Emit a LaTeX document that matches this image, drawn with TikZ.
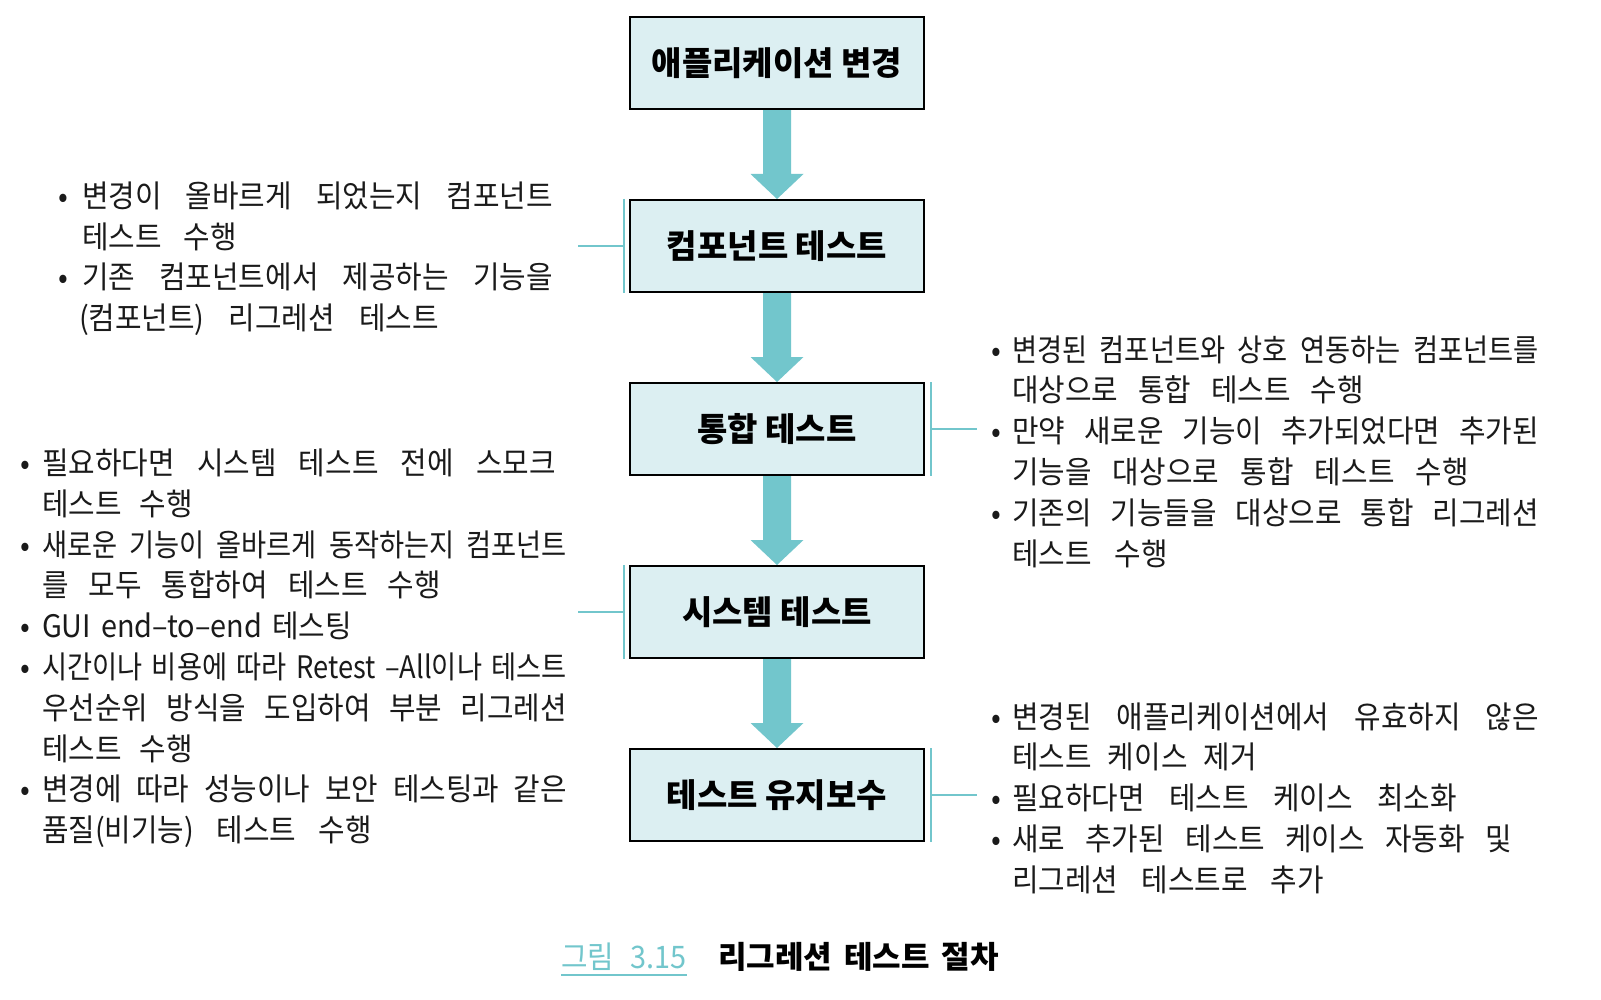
\documentclass[tikz,border=0pt]{standalone}
\usepackage{fontspec}
\usetikzlibrary{calc,backgrounds}
\newfontfamily\kr[FakeStretch=0.93]{Noto Sans CJK KR}
\newfontfamily\krb{Noto Sans CJK KR}
\newfontfamily\krA[FakeStretch=0.88]{Noto Sans CJK KR}
\newfontfamily\krB[FakeStretch=0.83]{Noto Sans CJK KR}
\newfontfamily\krC[FakeStretch=0.78]{Noto Sans CJK KR}
\newfontfamily\krD[FakeStretch=0.73]{Noto Sans CJK KR}
\definecolor{boxfill}{HTML}{DCEFF2}
\definecolor{arrowc}{HTML}{72C6CC}
\definecolor{inkc}{HTML}{1A1A1A}
\newlength\fitnat
\newcommand\fitto[2]{%
 \settowidth\fitnat{#2}%
 \ifdim\fitnat>#1\relax
  \settowidth\fitnat{\krA #2}%
  \ifdim\fitnat>#1\relax
   \settowidth\fitnat{\krB #2}%
   \ifdim\fitnat>#1\relax
    \settowidth\fitnat{\krC #2}%
    \ifdim\fitnat>#1\relax \makebox[#1][s]{\krD #2}%
    \else \makebox[#1][s]{\krC #2}\fi
   \else \makebox[#1][s]{\krB #2}\fi
  \else \makebox[#1][s]{\krA #2}\fi
 \else \makebox[#1][s]{#2}\fi}
\newcommand\flowarr[2]{\fill[arrowc] ($(#1.south)+(-14,0)$) -- ($(#2.north)+(-14,-25)$) -- ($(#2.north)+(-26.5,-25)$) -- (#2.north) -- ($(#2.north)+(26.5,-25)$) -- ($(#2.north)+(14,-25)$) -- ($(#1.south)+(14,0)$) -- cycle;}
\begin{document}
\begin{tikzpicture}[x=1pt,y=-1pt,
  txt/.style={anchor=base west, inner sep=0pt, outer sep=0pt, yshift=-1.5pt, text=inkc, font=\kr\fontsize{31}{36}\selectfont},
  bul/.style={anchor=base, inner sep=0pt, outer sep=0pt, yshift=-1.5pt, text=inkc, font=\kr\fontsize{31}{36}\selectfont},
  stepbox/.style={draw=black, line width=2pt, fill=boxfill, minimum width=294pt, minimum height=92pt, inner sep=0pt, text=black, font=\krb\bfseries\fontsize{33}{38}\selectfont},
  brk/.style={draw=arrowc, line width=2pt},
]
\useasboundingbox (0,0) rectangle (1601,1000);

% boxes
\node[stepbox] (b1) at (777,63) {애플리케이션 변경};
\node[stepbox] (b2) at (777,246) {컴포넌트 테스트};
\node[stepbox] (b3) at (777,429) {통합 테스트};
\node[stepbox] (b4) at (777,612) {시스템 테스트};
\node[stepbox] (b5) at (777,795) {테스트 유지보수};

\begin{pgfonlayer}{background}
\fill[white] (0,0) rectangle (1601,1000);
\flowarr{b1}{b2}
\flowarr{b2}{b3}
\flowarr{b3}{b4}
\flowarr{b4}{b5}
\end{pgfonlayer}

% brackets
\coordinate (k2) at ($(b2.west)+(-51,0)$);
\draw[brk] ($(b2.north west)+(-5,0)$) -- ($(b2.south west)+(-5,0)$);
\draw[brk] (k2) -- ($(b2.west)+(-5,0)$);
\coordinate (k3) at ($(b3.east)+(52,0)$);
\draw[brk] ($(b3.north east)+(6,0)$) -- ($(b3.south east)+(6,0)$);
\draw[brk] ($(b3.east)+(6,0)$) -- (k3);
\coordinate (k4) at ($(b4.west)+(-51,0)$);
\draw[brk] ($(b4.north west)+(-5,0)$) -- ($(b4.south west)+(-5,0)$);
\draw[brk] (k4) -- ($(b4.west)+(-5,0)$);
\coordinate (k5) at ($(b5.east)+(52,0)$);
\draw[brk] ($(b5.north east)+(6,0)$) -- ($(b5.south east)+(6,0)$);
\draw[brk] ($(b5.east)+(6,0)$) -- (k5);

% left group 1
\node[bul] (d1a) at (63,206.5) {•};
\node[txt] (l1a) at (82,206.5) {\fitto{471pt}{변경이 올바르게 되었는지 컴포넌트}};
\node[txt] (l1b) at (82,247.5) {\fitto{155pt}{테스트 수행}};
\node[bul] (d1c) at (63,287.5) {•};
\node[txt] (l1c) at (82,287.5) {\fitto{471pt}{기존 컴포넌트에서 제공하는 기능을}};
\node[txt] (l1d) at (79,328.5) {\fitto{360pt}{(컴포넌트) 리그레션 테스트}};

% left group 2
\node[bul] (d2a) at (25,473) {•};
\node[txt] (l2a) at (42,473) {\fitto{514pt}{필요하다면 시스템 테스트 전에 스모크}};
\node[txt] (l2b) at (42,513.8) {\fitto{151pt}{테스트 수행}};
\node[bul] (d2c) at (25,554.6) {•};
\node[txt] (l2c) at (42,554.6) {\fitto{525pt}{새로운 기능이 올바르게 동작하는지 컴포넌트}};
\node[txt] (l2d) at (42,595.4) {\fitto{399pt}{를 모두 통합하여 테스트 수행}};
\node[bul] (d2e) at (25,636.2) {•};
\node[txt] (l2e) at (42,636.2) {\fitto{310pt}{GUI end–to–end 테스팅}};
\node[bul] (d2f) at (25,677) {•};
\node[txt] (l2f) at (42,677) {\fitto{525pt}{시간이나 비용에 따라 Retest –All이나 테스트}};
\node[txt] (l2g) at (42,717.8) {\fitto{525pt}{우선순위 방식을 도입하여 부분 리그레션}};
\node[txt] (l2h) at (42,758.6) {\fitto{151pt}{테스트 수행}};
\node[bul] (d2i) at (25,799.4) {•};
\node[txt] (l2i) at (42,799.4) {\fitto{525pt}{변경에 따라 성능이나 보안 테스팅과 같은}};
\node[txt] (l2j) at (42,840.2) {\fitto{330pt}{품질(비기능) 테스트 수행}};

% right group 1
\node[bul] (d3a) at (996,359.5) {•};
\node[txt] (r1a) at (1012,359.5) {\fitto{527pt}{변경된 컴포넌트와 상호 연동하는 컴포넌트를}};
\node[txt] (r1b) at (1012,400.3) {\fitto{352pt}{대상으로 통합 테스트 수행}};
\node[bul] (d3c) at (996,441.1) {•};
\node[txt] (r1c) at (1012,441.1) {\fitto{527pt}{만약 새로운 기능이 추가되었다면 추가된}};
\node[txt] (r1d) at (1012,481.9) {\fitto{457pt}{기능을 대상으로 통합 테스트 수행}};
\node[bul] (d3e) at (996,522.7) {•};
\node[txt] (r1e) at (1012,522.7) {\fitto{527pt}{기존의 기능들을 대상으로 통합 리그레션}};
\node[txt] (r1f) at (1012,563.5) {\fitto{156pt}{테스트 수행}};

% right group 2
\node[bul] (d4a) at (996,726.5) {•};
\node[txt] (r2a) at (1012,726.5) {\fitto{527pt}{변경된 애플리케이션에서 유효하지 않은}};
\node[txt] (r2b) at (1012,767.3) {\fitto{245pt}{테스트 케이스 제거}};
\node[bul] (d4c) at (996,808.1) {•};
\node[txt] (r2c) at (1012,808.1) {\fitto{445pt}{필요하다면 테스트 케이스 최소화}};
\node[bul] (d4d) at (996,848.9) {•};
\node[txt] (r2d) at (1012,848.9) {\fitto{500pt}{새로 추가된 테스트 케이스 자동화 및}};
\node[txt] (r2e) at (1012,889.7) {\fitto{312pt}{리그레션 테스트로 추가}};

% caption
\node[txt, text=arrowc] (cap1) at (561,966.5) {\fitto{126pt}{그림 3.15}};
\draw[arrowc, line width=2pt] ($(cap1.base west)+(0,6.5)$) -- ($(cap1.base east)+(0,6.5)$);
\node[txt, text=black, font=\krb\bfseries\fontsize{31}{36}\selectfont] (cap2) at (718,966.5) {\fitto{281pt}{리그레션 테스트 절차}};
\end{tikzpicture}
\end{document}
